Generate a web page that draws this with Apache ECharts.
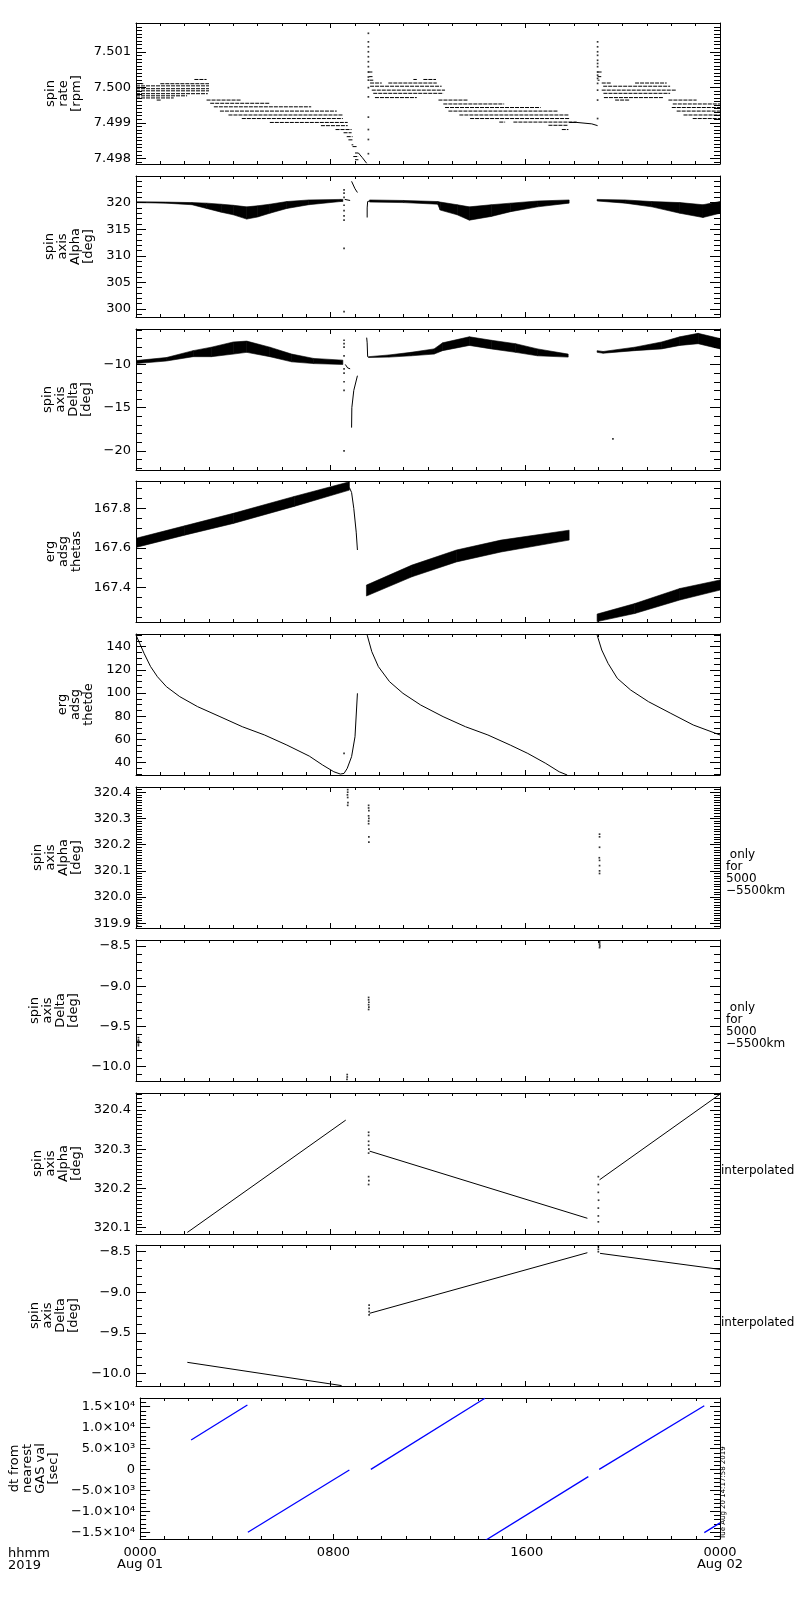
<!DOCTYPE html>
<html><head><meta charset="utf-8">
<script src="https://cdn.jsdelivr.net/npm/echarts@6/dist/echarts.min.js"></script>
<style>html,body{margin:0;padding:0;background:#fff}#c{width:800px;height:1600px}</style>
</head><body><div id="c"></div>
<script>
// ---------------- tick labels ----------------
const timeTicks = [0, 8, 16, 24];
const timeTickLabels = ['0000\nAug 01', '0800', '1600', '0000\nAug 02'];
const spinRateTicks = [7.498, 7.499, 7.500, 7.501];
const alphaTicks = [300, 305, 310, 315, 320];
const deltaTicks = [-20, -15, -10];
const thetasTicks = [167.4, 167.6, 167.8];
const thetdeTicks = [40, 60, 80, 100, 120, 140];
const alphaOnlyTicks = [319.9, 320.0, 320.1, 320.2, 320.3, 320.4];
const deltaOnlyTicks = [-10.0, -9.5, -9.0, -8.5];
const alphaInterpTicks = [320.1, 320.2, 320.3, 320.4];
const deltaInterpTicks = [-10.0, -9.5, -9.0, -8.5];
const dtTicks = [-15000, -10000, -5000, 0, 5000, 10000, 15000];
const dtTickLabels = ['−1.5×10⁴', '−1.0×10⁴', '−5.0×10³', '0', '5.0×10³', '1.0×10⁴', '1.5×10⁴'];

// ---------------- panel 1: spin rate [rpm] (hour, value) ----------------
// quantized runs: [startHour, endHour, rpm]
const spinRateRuns = [
  [0.0, 0.3, 7.50010], [1.0, 3.0, 7.50010], [2.4, 2.9, 7.50022],
  [0.0, 3.0, 7.50004], [0.0, 3.0, 7.49996], [0.0, 3.0, 7.49990], [0.0, 2.95, 7.49982],
  [0.0, 2.1, 7.49976], [0.0, 1.55, 7.49970], [0.85, 1.05, 7.49964],
  [2.9, 4.3, 7.49964], [3.05, 5.5, 7.49955], [3.2, 7.2, 7.49945], [3.45, 8.25, 7.49933],
  [3.8, 8.5, 7.49922], [4.35, 8.5, 7.49912], [5.5, 8.7, 7.49901], [7.6, 8.7, 7.49892],
  [8.2, 8.86, 7.49881], [8.53, 8.86, 7.49872], [8.66, 8.9, 7.49861], [8.73, 8.9, 7.49852],
  [8.86, 8.93, 7.49838], [8.9, 9.07, 7.49833], [9.0, 9.14, 7.49815], [8.93, 9.14, 7.49805],
  [9.0, 9.14, 7.49796],
  [9.55, 9.72, 7.50043], [9.58, 9.72, 7.50030], [9.6, 9.75, 7.50020],
  [11.4, 11.54, 7.50022], [11.81, 12.33, 7.50022],
  [9.62, 10.10, 7.50012], [10.37, 12.36, 7.50012], [9.62, 12.56, 7.50003],
  [9.69, 12.70, 7.49992], [9.75, 12.63, 7.49983], [9.82, 11.54, 7.49971],
  [12.43, 13.66, 7.49964], [12.63, 15.13, 7.49953], [12.70, 16.63, 7.49943],
  [12.84, 17.36, 7.49933], [13.29, 17.81, 7.49922], [13.73, 17.81, 7.49912],
  [14.93, 15.17, 7.49902], [15.51, 18.11, 7.49902], [16.95, 17.77, 7.49893], [17.50, 17.77, 7.49881],
  [18.97, 19.15, 7.50043], [18.97, 19.12, 7.50030], [18.97, 19.05, 7.50020],
  [19.14, 19.51, 7.50012], [20.51, 21.81, 7.50012], [19.2, 21.95, 7.50003],
  [19.14, 22.22, 7.49992], [19.21, 21.95, 7.49983], [19.23, 21.68, 7.49971],
  [19.69, 20.30, 7.49964], [21.88, 23.04, 7.49964], [22.06, 24.0, 7.49953],
  [22.02, 24.0, 7.49943], [22.22, 24.0, 7.49933], [22.5, 24.0, 7.49922], [22.88, 24.0, 7.49912]
];
const spinRateSpikes = [
  [9.55, 7.50152], [9.55, 7.50128], [9.55, 7.50114], [9.55, 7.50100], [9.55, 7.50086],
  [9.55, 7.50072], [9.55, 7.50058], [9.55, 7.50043], [9.55, 7.50029], [9.55, 7.50020],
  [9.55, 7.49999], [9.55, 7.49973], [9.55, 7.49916], [9.55, 7.49881], [9.55, 7.49853], [9.55, 7.49813],
  [18.97, 7.50128], [18.97, 7.50114], [18.97, 7.50100], [18.97, 7.50090], [18.97, 7.50076],
  [18.97, 7.50067], [18.97, 7.50058], [18.97, 7.50043], [18.97, 7.50034], [18.97, 7.50025],
  [18.97, 7.50011], [18.97, 7.49992], [18.97, 7.49964], [18.97, 7.49912]
];
const spinRateDrop = [[9.14, 7.49815], [9.3, 7.49802], [9.48, 7.49786]];
const spinRateFlat = [[17.8, 7.49901], [18.12, 7.49901], [18.15, 7.49897], [18.73, 7.49897], [18.75, 7.49892], [18.97, 7.49892]];

// ---------------- panel 2: spin axis Alpha [deg] ----------------
// noisy bands: [hour, low, high]
const alphaBand1 = [[0.0, 320.0, 320.15], [1.2, 319.9, 320.1], [2.3, 319.6, 320.0], [2.9, 318.9, 319.9],
  [3.5, 318.2, 319.7], [4.0, 317.7, 319.5], [4.55, 316.9, 319.2], [5.0, 317.3, 319.4], [5.5, 318.0, 319.7],
  [6.2, 318.9, 320.2], [7.1, 319.6, 320.5], [8.4, 320.2, 320.6], [8.5, 320.2, 320.6]];
const alphaBand2 = [[9.6, 320.1, 320.5], [11.0, 320.0, 320.4], [12.4, 319.7, 320.2], [12.5, 318.6, 320.1],
  [13.2, 317.7, 319.6], [13.7, 316.7, 319.2], [14.6, 317.4, 319.6], [15.4, 318.3, 319.9],
  [16.5, 319.2, 320.3], [17.8, 319.9, 320.5]];
const alphaBand3 = [[18.95, 320.3, 320.6], [20.1, 319.9, 320.5], [21.2, 319.2, 320.2], [22.35, 318.0, 320.0],
  [23.3, 317.2, 319.6], [24.0, 318.0, 320.2]];
const alphaDots = [[8.55, 322.4], [8.55, 321.8], [8.55, 321.0], [8.55, 319.5], [8.55, 318.5], [8.55, 317.5],
  [8.55, 316.7], [8.55, 311.4], [8.55, 299.5]];
const alphaStep = [[8.58, 320.6], [8.65, 320.5], [8.8, 320.4]];
const alphaJump = [[8.86, 324.0], [9.0, 322.6], [9.1, 321.9]];
const alphaRecover = [[9.5, 317.2], [9.5, 319.0], [9.52, 320.2], [9.6, 320.3]];

// ---------------- panel 3: spin axis Delta [deg] ----------------
const deltaBand1 = [[0.0, -9.9, -9.55], [1.25, -9.6, -9.2], [2.35, -9.1, -8.4], [3.1, -9.1, -8.0],
  [4.0, -8.8, -7.4], [4.55, -8.6, -7.3], [5.5, -9.1, -8.0], [6.4, -9.7, -8.8], [7.3, -9.9, -9.3], [8.5, -10.0, -9.5]];
const deltaBand2 = [[9.56, -9.2, -9.1], [10.4, -9.15, -8.9], [11.3, -9.0, -8.6], [12.25, -8.8, -8.2],
  [12.6, -8.4, -7.5], [13.7, -7.8, -6.8], [14.6, -8.2, -7.2], [15.6, -8.6, -7.6], [16.5, -9.0, -8.2], [17.76, -9.15, -8.8]];
const deltaBand3 = [[18.95, -8.6, -8.4], [19.2, -8.7, -8.5], [20.5, -8.4, -8.0], [21.6, -8.2, -7.4],
  [22.35, -7.8, -6.8], [23.1, -7.6, -6.4], [24.0, -8.2, -7.0]];
const deltaDots = [[8.55, -7.2], [8.55, -7.6], [8.55, -8.0], [8.55, -9.0], [8.55, -10.5], [8.55, -11.0],
  [8.55, -12.0], [8.55, -13.0], [8.55, -20.0], [19.6, -18.6]];
const deltaStep = [[8.6, -10.0], [8.7, -10.4], [8.8, -10.5]];
const deltaJump = [[8.86, -17.3], [8.87, -15.0], [8.95, -13.0], [9.1, -11.3]];
const deltaRecover = [[9.48, -6.9], [9.5, -7.5], [9.52, -9.1], [9.56, -9.15]];

// ---------------- panel 4: erg adsg thetas ----------------
const thetasBand1 = [[0.0, 167.603, 167.649], [2.0, 167.665, 167.712], [4.0, 167.724, 167.775],
  [6.5, 167.81, 167.86], [8.77, 167.892, 167.934]];
const thetasBand2 = [[9.47, 167.358, 167.413], [11.34, 167.455, 167.514], [13.17, 167.53, 167.59],
  [15.0, 167.58, 167.64], [17.8, 167.64, 167.69]];
const thetasBand3 = [[18.95, 167.229, 167.267], [20.5, 167.27, 167.32], [22.35, 167.338, 167.396], [24.0, 167.388, 167.439]];
const thetasDrop = [[8.77, 167.905], [8.86, 167.88], [8.95, 167.8], [9.05, 167.68], [9.1, 167.59]];

// ---------------- panel 5: erg adsg thetde ----------------
const thetdeCurve1 = [[0, 150], [0.15, 142.9], [0.33, 134.3], [0.6, 122.8], [0.88, 114.1], [1.25, 105.5],
  [1.8, 96.9], [2.53, 88.3], [3.45, 79.7], [4.37, 71.0], [5.28, 63.9], [6.2, 55.2], [7.12, 45.7],
  [7.67, 38.0], [8.13, 32.2], [8.4, 30.2], [8.55, 30.8], [8.68, 35.1], [8.86, 45.2], [9.0, 62.4], [9.1, 99.8]];
const thetdeCurve2 = [[9.5, 150], [9.69, 135.7], [9.96, 122.8], [10.42, 109.8], [10.97, 99.8], [11.7, 89.7],
  [12.62, 79.7], [13.54, 71.0], [14.46, 63.9], [15.38, 55.2], [16.1, 48.0], [16.84, 39.4], [17.39, 32.2], [17.72, 29.4]];
const thetdeCurve3 = [[18.95, 150], [19.14, 137.1], [19.4, 125.6], [19.78, 112.7], [20.33, 102.6],
  [21.06, 92.6], [21.98, 82.5], [22.9, 72.5], [24, 63.9]];
const thetdeDots = [[8.55, 48.0]];

// ---------------- panel 6: spin axis Alpha (5000-5500 km only) ----------------
const alphaOnlyDots = [[8.7, 320.41], [8.7, 320.40], [8.69, 320.39], [8.7, 320.38], [8.71, 320.36], [8.7, 320.35],
  [9.56, 320.35], [9.56, 320.34], [9.57, 320.33], [9.56, 320.31], [9.57, 320.30], [9.56, 320.29], [9.56, 320.28],
  [9.57, 320.23], [9.57, 320.21],
  [19.05, 320.24], [19.05, 320.23], [19.05, 320.19], [19.04, 320.15], [19.05, 320.14], [19.05, 320.12],
  [19.05, 320.10], [19.05, 320.09],
  [0.05, 319.92], [0.05, 319.91], [0.05, 319.90], [0.1, 319.90], [0.05, 319.89]];

// ---------------- panel 7: spin axis Delta (5000-5500 km only) ----------------
const deltaOnlyDots = [[8.68, -10.10], [8.68, -10.13], [8.67, -10.16],
  [9.56, -9.14], [9.56, -9.17], [9.57, -9.20], [9.56, -9.23], [9.57, -9.26], [9.56, -9.29],
  [19.05, -8.44], [19.05, -8.46], [19.05, -8.48], [19.06, -8.50], [19.05, -8.52],
  [0.1, -9.64], [0.1, -9.67], [0.1, -9.69], [0.1, -9.72], [0.1, -9.74], [0.05, -9.69], [0.15, -9.69]];

// ---------------- panel 8: spin axis Alpha interpolated ----------------
const alphaInterpLine1 = [[2.11, 320.088], [8.62, 320.374]];
const alphaInterpLine2 = [[9.6, 320.295], [18.55, 320.124]];
const alphaInterpLine3 = [[19.05, 320.222], [24.0, 320.44]];
const alphaInterpDots = [[9.56, 320.343], [9.56, 320.335], [9.56, 320.32], [9.56, 320.31], [9.57, 320.30],
  [9.56, 320.29], [9.56, 320.23], [9.57, 320.22], [9.56, 320.21],
  [19.0, 320.23], [19.0, 320.21], [19.0, 320.19], [19.01, 320.17], [19.0, 320.15], [19.0, 320.13], [19.0, 320.115]];

// ---------------- panel 9: spin axis Delta interpolated ----------------
const deltaInterpLine1 = [[2.11, -9.865], [8.45, -10.152]];
const deltaInterpLine2 = [[9.6, -9.26], [18.55, -8.512]];
const deltaInterpLine3 = [[19.07, -8.52], [24.0, -8.718]];
const deltaInterpDots = [[9.58, -9.16], [9.58, -9.20], [9.58, -9.24], [9.58, -9.28],
  [19.0, -8.44], [19.0, -8.47], [19.0, -8.50]];

// ---------------- panel 10: dt from nearest GAS val [sec] ----------------
const dtSeg1 = [[2.11, 7040], [4.44, 15400]];
const dtSeg2 = [[4.46, -15000], [8.66, -120]];
const dtSeg3 = [[9.55, 40], [14.27, 17010]];
const dtSeg4 = [[14.27, -17010], [18.55, -1710]];
const dtSeg5 = [[19.0, 40], [23.35, 15240]];
const dtSeg6 = [[23.35, -15080], [24.0, -12740]];

// ---------------- layout / styling ----------------
const FONT = 'DejaVu Sans';
const GRID_TOPS = [23, 176, 329, 481, 634, 787, 940, 1093, 1245, 1398];
const GRID_H = 141, GRID_L = 136, GRID_R = 80;
const neg = s => s.replace('-', '−');

const panels = [
  { name: 'spin\nrate\n[rpm]', min: 7.49784, max: 7.50181, ticks: spinRateTicks, minor: 0.0001, fmt: v => v.toFixed(3), gap: 50,
    series: [{ runs: spinRateRuns }, { dots: spinRateSpikes }, { line: spinRateDrop }, { line: spinRateFlat }] },
  { name: 'spin\naxis\nAlpha\n[deg]', min: 298.5, max: 325.0, ticks: alphaTicks, minor: 1, fmt: v => String(v), gap: 38,
    series: [{ band: alphaBand1 }, { band: alphaBand2 }, { band: alphaBand3 }, { dots: alphaDots },
      { line: alphaStep }, { line: alphaJump }, { line: alphaRecover }] },
  { name: 'spin\naxis\nDelta\n[deg]', min: -22.2, max: -5.9, ticks: deltaTicks, minor: 1, fmt: v => neg(String(v)), gap: 39,
    series: [{ band: deltaBand1 }, { band: deltaBand2 }, { band: deltaBand3 }, { dots: deltaDots },
      { line: deltaStep }, { line: deltaJump }, { line: deltaRecover }] },
  { name: 'erg\nadsg\nthetas', min: 167.227, max: 167.938, ticks: thetasTicks, minor: 0.05, fmt: v => v.toFixed(1), gap: 53,
    series: [{ band: thetasBand1 }, { band: thetasBand2 }, { band: thetasBand3 }, { line: thetasDrop }] },
  { name: 'erg\nadsg\nthetde', min: 29.4, max: 150.9, ticks: thetdeTicks, minor: 5, fmt: v => String(v), gap: 38,
    series: [{ line: thetdeCurve1 }, { line: thetdeCurve2 }, { line: thetdeCurve3 }, { dots: thetdeDots }] },
  { name: 'spin\naxis\nAlpha\n[deg]', min: 319.882, max: 320.42, ticks: alphaOnlyTicks, minor: 0.01, fmt: v => v.toFixed(1), gap: 50,
    series: [{ dots: alphaOnlyDots }], note: ' only\nfor\n5000\n−5500km' },
  { name: 'spin\naxis\nDelta\n[deg]', min: -10.18, max: -8.425, ticks: deltaOnlyTicks, minor: 0.1, fmt: v => neg(v.toFixed(1)), gap: 52,
    series: [{ dots: deltaOnlyDots }], note: ' only\nfor\n5000\n−5500km' },
  { name: 'spin\naxis\nAlpha\n[deg]', min: 320.084, max: 320.443, ticks: alphaInterpTicks, minor: 0.01, fmt: v => v.toFixed(1), gap: 51,
    series: [{ line: alphaInterpLine1 }, { line: alphaInterpLine2 }, { line: alphaInterpLine3 }, { dots: alphaInterpDots }],
    note: 'interpolated' },
  { name: 'spin\naxis\nDelta\n[deg]', min: -10.157, max: -8.417, ticks: deltaInterpTicks, minor: 0.1, fmt: v => neg(v.toFixed(1)), gap: 53,
    series: [{ line: deltaInterpLine1 }, { line: deltaInterpLine2 }, { line: deltaInterpLine3 }, { dots: deltaInterpDots }],
    note: 'interpolated' },
  { name: 'dt from\nnearest\nGAS val\n[sec]', min: -16600, max: 17080, ticks: dtTicks, minor: 1000,
    fmt: v => { const k = dtTicks.findIndex(t => Math.abs(t - v) < 1e-6); return k >= 0 ? dtTickLabels[k] : ''; }, gap: 74,
    series: [{ line: dtSeg1, color: '#0000ff' }, { line: dtSeg2, color: '#0000ff' }, { line: dtSeg3, color: '#0000ff' },
      { line: dtSeg4, color: '#0000ff' }, { line: dtSeg5, color: '#0000ff' }, { line: dtSeg6, color: '#0000ff' }] }
];

function minorValues(min, max, step) {
  const out = [];
  for (let k = Math.ceil(min / step - 1e-9); k * step <= max + 1e-12; k++) out.push(+(k * step).toFixed(6));
  return out;
}

const blk = { color: '#000', width: 1 };
const grid = [], xAxis = [], yAxis = [], series = [], graphic = [];

function runRender(params, api) {
  const p0 = api.coord([api.value(0), api.value(2)]);
  const p1 = api.coord([api.value(1), api.value(2)]);
  return { type: 'line', shape: { x1: p0[0], y1: p0[1], x2: p1[0], y2: p1[1] },
    style: { stroke: '#000', lineWidth: 1, lineDash: [4, 1] } };
}
function bandRender(data) {
  return function (params, api) {
    const i = params.dataIndex;
    if (i >= data.length - 1) return null;
    const a = data[i], b = data[i + 1];
    const pts = [api.coord([a[0], a[1]]), api.coord([b[0], b[1]]), api.coord([b[0], b[2]]), api.coord([a[0], a[2]])];
    return { type: 'polygon', shape: { points: pts }, style: { fill: '#000', stroke: '#000', lineWidth: 0.6 } };
  };
}

panels.forEach((p, i) => {
  grid.push({ left: GRID_L, right: GRID_R, top: GRID_TOPS[i], height: GRID_H });
  const last = i === panels.length - 1;
  ['bottom', 'top'].forEach(pos => {
    xAxis.push({
      gridIndex: i, type: 'value', min: 0, max: 24, interval: 8, position: pos,
      axisLine: { show: true, onZero: false, lineStyle: blk },
      axisTick: { show: true, inside: true, length: 5, lineStyle: blk },
      minorTick: { show: true, splitNumber: 8, length: 3, lineStyle: blk },
      splitLine: { show: false }, minorSplitLine: { show: false },
      axisLabel: (pos === 'bottom' && last) ? {
        show: true, margin: 8, fontFamily: FONT, fontSize: 13, lineHeight: 12, color: '#000',
        showMinLabel: true, showMaxLabel: true,
        formatter: v => { const k = timeTicks.indexOf(v); return k >= 0 ? timeTickLabels[k] : ''; }
      } : { show: false }
    });
  });
  const minors = minorValues(p.min, p.max, p.minor);
  ['left', 'right'].forEach(pos => {
    yAxis.push({
      gridIndex: i, type: 'value', min: p.min, max: p.max, position: pos,
      axisLine: { show: true, onZero: false, lineStyle: blk },
      axisTick: { show: true, inside: true, length: 10, lineStyle: blk, customValues: p.ticks },
      splitLine: { show: false },
      axisLabel: pos === 'left' ? { show: true, customValues: p.ticks, formatter: p.fmt, margin: 5,
        fontFamily: FONT, fontSize: 13, color: '#000' } : { show: false },
      name: pos === 'left' ? p.name : '', nameLocation: 'middle', nameRotate: 90, nameGap: p.gap,
      nameTextStyle: { fontFamily: FONT, fontSize: 13, lineHeight: 13, color: '#000' }
    });
    yAxis.push({
      gridIndex: i, type: 'value', min: p.min, max: p.max, position: pos,
      axisLine: { show: false, onZero: false },
      axisTick: { show: true, inside: true, length: 6, lineStyle: blk, customValues: minors },
      splitLine: { show: false }, axisLabel: { show: false }
    });
  });
  p.series.forEach(s => {
    const base = { xAxisIndex: 2 * i, yAxisIndex: 4 * i, animation: false, silent: true };
    if (s.line) series.push({ ...base, type: 'line', data: s.line, symbol: 'none', showSymbol: false, clip: true,
      lineStyle: { color: s.color || '#000', width: s.color ? 1.3 : 1 } });
    else if (s.dots) series.push({ ...base, type: 'scatter', data: s.dots, symbol: 'rect', symbolSize: 1.7,
      itemStyle: { color: '#000' } });
    else if (s.runs) series.push({ ...base, type: 'custom', data: s.runs, encode: { x: [0, 1], y: 2 },
      renderItem: runRender, clip: true });
    else if (s.band) series.push({ ...base, type: 'custom', data: s.band, encode: { x: 0, y: [1, 2] },
      renderItem: bandRender(s.band), clip: true });
  });
  if (p.note) {
    const multi = p.note.indexOf('\n') >= 0;
    const center = GRID_TOPS[i] + GRID_H / 2;
    graphic.push({ type: 'text', left: multi ? 726 : 721, top: multi ? center - 9 : center + 1,
      style: { text: p.note, fontFamily: FONT, fontSize: 12, lineHeight: 12, fill: '#000' } });
  }
});

graphic.push({ type: 'text', left: 8, top: 1547,
  style: { text: 'hhmm\n2019', fontFamily: FONT, fontSize: 13, lineHeight: 12, fill: '#000' } });
graphic.push({ type: 'text', x: 727, y: 1539, rotation: Math.PI / 2,
  style: { text: 'Tue Aug 20 14:17:58 2019', fontFamily: FONT, fontSize: 7, fill: '#000',
    align: 'left', verticalAlign: 'bottom', textAlign: 'left', textVerticalAlign: 'bottom' } });

const chart = echarts.init(document.getElementById('c'), null, { renderer: 'canvas' });
chart.setOption({ animation: false, backgroundColor: '#fff', grid, xAxis, yAxis, series, graphic });
</script>
</body></html>
